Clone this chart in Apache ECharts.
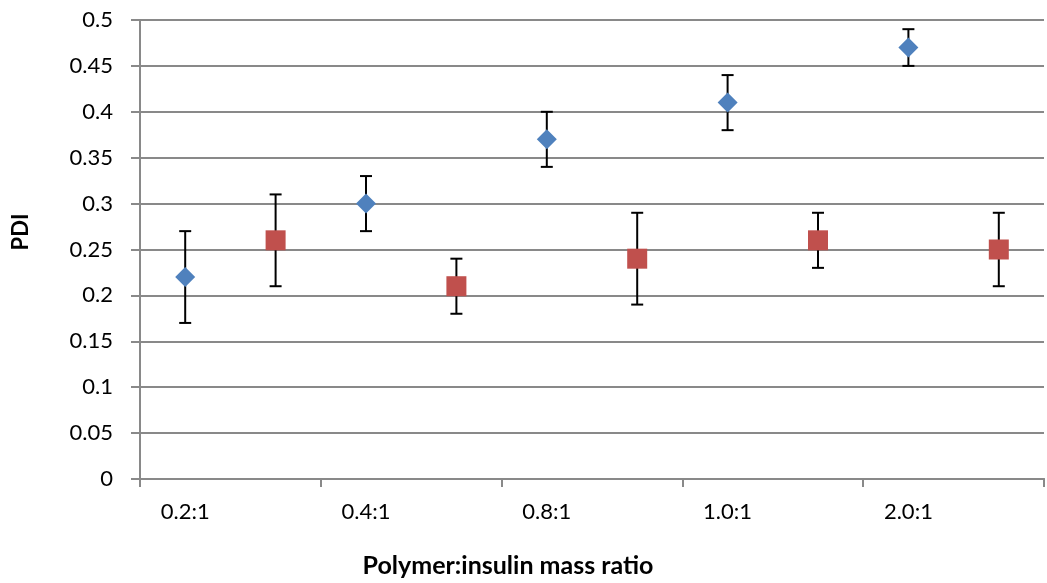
<!DOCTYPE html>
<html>
<head>
<meta charset="utf-8">
<script src="https://cdn.jsdelivr.net/npm/echarts@6/dist/echarts.min.js"></script>
<style>html,body{margin:0;padding:0;background:#fff}#c{width:1047px;height:583px}</style>
</head>
<body>
<div id="c"></div>
<script>
var categories = ['0.2:1', '0.4:1', '0.8:1', '1.0:1', '2.0:1'];
var blueValues = [0.22, 0.30, 0.37, 0.41, 0.47];
var blueLow = [0.17, 0.27, 0.34, 0.38, 0.45];
var blueHigh = [0.27, 0.33, 0.40, 0.44, 0.49];
var redValues = [0.26, 0.21, 0.24, 0.26, 0.25];
var redLow = [0.21, 0.18, 0.19, 0.23, 0.21];
var redHigh = [0.31, 0.24, 0.29, 0.29, 0.29];
var yTicks = { min: 0, max: 0.5, interval: 0.05 };
var xTitle = 'Polymer:insulin mass ratio';
var yTitle = 'PDI';

var BLUE_OFF = 0.25, RED_OFF = 0.75;
var FONT = 'Lato';

function pts(vals, off) { return vals.map(function (v, i) { return [i + off, v]; }); }
function errs(lo, hi, off) { return lo.map(function (l, i) { return [i + off, l, hi[i]]; }); }

function renderErr(params, api) {
  var x = api.value(0);
  var pLo = api.coord([x, api.value(1)]);
  var pHi = api.coord([x, api.value(2)]);
  var hw = 6;
  var st = { stroke: '#000', lineWidth: 2 };
  return {
    type: 'group',
    children: [
      { type: 'line', shape: { x1: pLo[0], y1: pLo[1], x2: pHi[0], y2: pHi[1] }, style: st },
      { type: 'line', shape: { x1: pLo[0] - hw, y1: pLo[1], x2: pLo[0] + hw, y2: pLo[1] }, style: st },
      { type: 'line', shape: { x1: pHi[0] - hw, y1: pHi[1], x2: pHi[0] + hw, y2: pHi[1] }, style: st }
    ]
  };
}

var chart = echarts.init(document.getElementById('c'));
chart.setOption({
  animation: false,
  backgroundColor: '#fff',
  grid: { left: 140, right: -2, top: 20, bottom: 104, containLabel: false },
  graphic: [
    { type: 'text', x: 508, y: 566, style: { text: xTitle, fontFamily: FONT, fontSize: 25, fontWeight: 'bold', fill: '#000', textAlign: 'center', textVerticalAlign: 'middle' } },
    { type: 'text', x: 21, y: 232, rotation: Math.PI / 2, style: { text: yTitle, fontFamily: FONT, fontSize: 22, fontWeight: 'bold', fill: '#000', textAlign: 'center', textVerticalAlign: 'middle' } }
  ],
  xAxis: [
    {
      type: 'value', min: 0, max: categories.length, interval: 0.25,
      axisLine: { show: true, lineStyle: { color: '#898989', width: 2 } },
      axisTick: { show: false },
      splitLine: { show: false },
      axisLabel: {
        margin: 22, fontFamily: FONT, fontSize: 22, color: '#000',
        showMinLabel: true, showMaxLabel: true,
        formatter: function (v) {
          var k = v - BLUE_OFF;
          var r = Math.round(k);
          if (Math.abs(k - r) < 1e-6 && r >= 0 && r < categories.length) return categories[r];
          return '';
        }
      }
    },
    {
      type: 'value', min: 0, max: categories.length, interval: 1, position: 'bottom',
      axisLine: { show: true, lineStyle: { color: '#898989', width: 2 } },
      axisTick: { show: true, length: 8, lineStyle: { color: '#898989', width: 2 } },
      axisLabel: { show: false },
      splitLine: { show: false }
    }
  ],
  yAxis: {
    type: 'value', min: yTicks.min, max: yTicks.max, interval: yTicks.interval,
    axisLine: { show: true, lineStyle: { color: '#898989', width: 2 } },
    axisTick: { show: true, length: 9, lineStyle: { color: '#898989', width: 2 } },
    splitLine: { show: true, lineStyle: { color: '#898989', width: 2 } },
    axisLabel: {
      margin: 27, fontFamily: FONT, fontSize: 22, color: '#000',
      formatter: function (v) { return String(+v.toFixed(2)); }
    }
  },
  series: [
    { type: 'custom', renderItem: renderErr, data: errs(blueLow, blueHigh, BLUE_OFF), z: 2, encode: { x: 0, y: [1, 2] } },
    { type: 'custom', renderItem: renderErr, data: errs(redLow, redHigh, RED_OFF), z: 2, encode: { x: 0, y: [1, 2] } },
    { type: 'scatter', symbol: 'diamond', symbolSize: [20, 20], data: pts(blueValues, BLUE_OFF), itemStyle: { color: '#4F81BD', opacity: 1 }, z: 3 },
    { type: 'scatter', symbol: 'rect', symbolSize: [20, 20], data: pts(redValues, RED_OFF), itemStyle: { color: '#C0504D', opacity: 1 }, z: 3 }
  ]
});
</script>
</body>
</html>
